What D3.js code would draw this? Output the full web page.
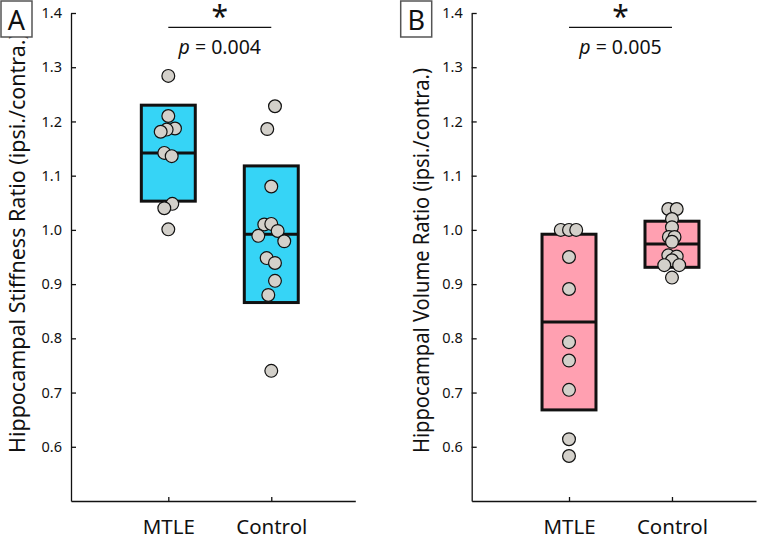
<!DOCTYPE html>
<html>
<head>
<meta charset="utf-8">
<script src="https://cdn.jsdelivr.net/npm/d3@7"></script>
<style>
  body { margin: 0; background: #fff; }
  text { font-family: "Noto Sans", sans-serif; fill: #111; }
</style>
</head>
<body>
<script>
// categories and ticks
const groups = ["MTLE", "Control"];
const yTicks = [0.6, 0.7, 0.8, 0.9, 1.0, 1.1, 1.2, 1.3, 1.4];

// panel A: stiffness ratio
const stiffMtle = [1.284, 1.210, 1.187, 1.185, 1.181, 1.142, 1.136, 1.048, 1.040, 1.001];
const stiffMtleJit = [0, 0, 0.065, -0.016, -0.074, -0.039, 0.033, 0.039, -0.039, 0];
const stiffCtrl = [1.228, 1.186, 1.080, 1.010, 1.011, 0.989, 0.998, 0.979, 0.948, 0.939, 0.906, 0.880, 0.740];
const stiffCtrlJit = [0.036, -0.039, 0, -0.068, 0, -0.126, 0.062, 0.126, -0.045, 0.036, 0.036, -0.029, 0];
const stiffQ1 = [1.053, 0.866];
const stiffMed = [1.142, 0.992];
const stiffQ3 = [1.230, 1.118];

// panel B: volume ratio
const volMtle = [1.000, 1.000, 1.000, 0.950, 0.891, 0.793, 0.759, 0.705, 0.614, 0.583];
const volMtleJit = [-0.08, 0, 0.07, 0, 0, 0, 0, 0, 0, 0];
const volCtrl = [1.0385, 1.0385, 1.020, 1.005, 0.987, 0.987, 0.978, 0.953, 0.951, 0.944, 0.935, 0.935, 0.912];
const volCtrlJit = [-0.036, 0.046, 0, 0, -0.03, 0.025, 0, -0.036, 0.046, 0, -0.075, 0.07, 0];
const volQ1 = [0.668, 0.931];
const volMed = [0.830, 0.974];
const volQ3 = [0.992, 1.016];

const pValues = ["0.004", "0.005"];

const svg = d3.select("body").append("svg")
    .attr("width", 757)
    .attr("height", 538);

function drawPanel(p) {
    const x = d3.scaleLinear().domain([0.055, 2.816]).range([p.left, p.left + 284.3]);
    const y = d3.scaleLinear().domain([0.5, 1.4]).range([501, 13]);
    const g = svg.append("g");
    const halfW = 0.262;

    // boxes
    g.selectAll("rect.box")
        .data(groups)
        .join("rect")
        .attr("class", "box")
        .attr("x", (d, i) => x(i + 1 - halfW))
        .attr("width", (d, i) => x(i + 1 + halfW) - x(i + 1 - halfW))
        .attr("y", (d, i) => y(p.q3[i]))
        .attr("height", (d, i) => y(p.q1[i]) - y(p.q3[i]))
        .attr("fill", p.color)
        .attr("stroke", "#111")
        .attr("stroke-width", 3);

    g.selectAll("line.med")
        .data(groups)
        .join("line")
        .attr("class", "med")
        .attr("x1", (d, i) => x(i + 1 - halfW))
        .attr("x2", (d, i) => x(i + 1 + halfW))
        .attr("y1", (d, i) => y(p.med[i]))
        .attr("y2", (d, i) => y(p.med[i]))
        .attr("stroke", "#111")
        .attr("stroke-width", 3);

    // points
    const pts = [];
    p.values.forEach((vals, gi) => {
        vals.forEach((v, j) => pts.push({g: gi + 1, v: v, j: p.jitter[gi][j]}));
    });
    g.selectAll("circle")
        .data(pts)
        .join("circle")
        .attr("cx", d => x(d.g + d.j))
        .attr("cy", d => y(d.v))
        .attr("r", 6.4)
        .attr("fill", "#d3d0ca")
        .attr("stroke", "#111")
        .attr("stroke-width", 1.2);

    // axes
    const yAxis = g.append("g")
        .attr("transform", `translate(${p.left},0)`)
        .call(d3.axisLeft(y).tickValues(yTicks).tickFormat(d3.format(".1f"))
            .tickSizeInner(-5).tickSizeOuter(0).tickPadding(9));
    yAxis.selectAll("text").attr("font-size", 14.5).attr("font-family", null);

    const xAxis = g.append("g")
        .attr("transform", "translate(0,501)")
        .call(d3.axisBottom(x).tickValues([1, 2]).tickFormat(d => groups[d - 1])
            .tickSizeInner(-4).tickSizeOuter(0).tickPadding(18));
    xAxis.selectAll("text").attr("font-size", 20.5).attr("font-family", null);

    g.selectAll(".domain, .tick line").attr("stroke", "#111").attr("stroke-width", 1.3);

    // y label
    g.append("text")
        .attr("transform", `translate(${p.labelX},453) rotate(-90)`)
        .attr("font-size", 21.5)
        .attr("textLength", p.labelLen)
        .attr("lengthAdjust", "spacingAndGlyphs")
        .text(p.label);

    // significance bar
    g.append("line")
        .attr("x1", x(1)).attr("x2", x(2))
        .attr("y1", 27.3).attr("y2", 27.3)
        .attr("stroke", "#111").attr("stroke-width", 1.2);
    g.append("text")
        .attr("x", x(1.5)).attr("y", 26.5)
        .attr("text-anchor", "middle")
        .attr("font-size", 30)
        .text("*");
    const pt = g.append("text")
        .attr("x", x(1.5)).attr("y", 53.5)
        .attr("text-anchor", "middle")
        .attr("font-size", 19.5);
    pt.append("tspan").attr("font-style", "italic").text("p");
    pt.append("tspan").text(" = " + p.pval);

    // panel letter
    g.append("rect")
        .attr("x", p.boxX).attr("y", 1)
        .attr("width", 31).attr("height", 36)
        .attr("fill", "#fff")
        .attr("stroke", "#555").attr("stroke-width", 1.5);
    g.append("text")
        .attr("x", p.boxX + 15.5).attr("y", 29.5)
        .attr("text-anchor", "middle")
        .attr("font-size", 27)
        .text(p.letter);
}

drawPanel({
    left: 71, color: "#36d4f6",
    values: [stiffMtle, stiffCtrl], jitter: [stiffMtleJit, stiffCtrlJit],
    q1: stiffQ1, med: stiffMed, q3: stiffQ3,
    label: "Hippocampal Stiffness Ratio (ipsi./contra.)", labelX: 25, labelLen: 420,
    pval: pValues[0], letter: "A", boxX: 1
});

drawPanel({
    left: 471.7, color: "#ffa0b1",
    values: [volMtle, volCtrl], jitter: [volMtleJit, volCtrlJit],
    q1: volQ1, med: volMed, q3: volQ3,
    label: "Hippocampal Volume Ratio (ipsi./contra.)", labelX: 429, labelLen: 385,
    pval: pValues[1], letter: "B", boxX: 400.7
});
</script>
</body>
</html>
